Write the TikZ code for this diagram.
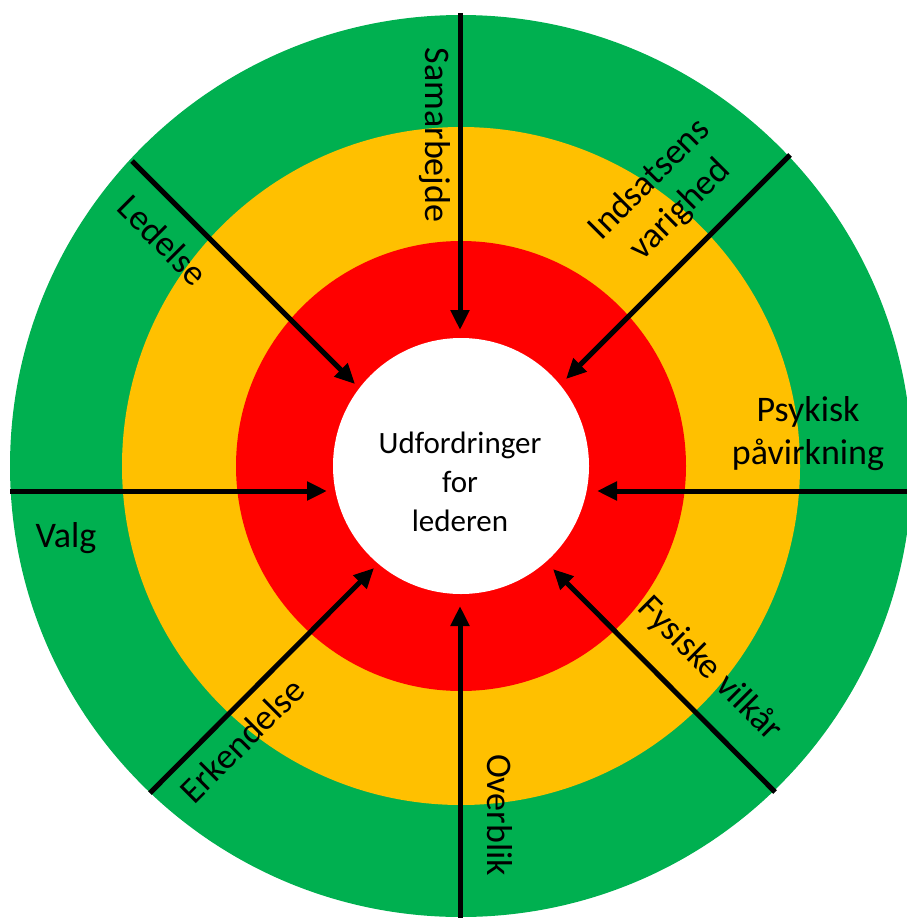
\documentclass[tikz,border=0pt]{standalone}
\usepackage{fontspec}
\setmainfont{Carlito}
\usepackage{tikz}
\usetikzlibrary{arrows.meta}
\definecolor{ringgreen}{HTML}{00B050}
\definecolor{ringyellow}{HTML}{FFC000}
\definecolor{ringred}{HTML}{FF0000}

\begin{document}
\begin{tikzpicture}[
    x=1pt, y=-1pt,
    lbl/.style={font=\fontsize{36}{43}\selectfont, align=center, inner sep=0pt},
    hub/.style={circle, fill=white, minimum size=256pt, inner sep=0pt},
    hubtext/.style={font=\fontsize{31}{39}\selectfont, align=center, inner sep=0pt},
    push/.style={-{Triangle[length=20pt, width=18pt]}, line width=5pt}
]
\useasboundingbox (0,0) rectangle (907,918);
\clip (0,0) rectangle (907,918);

% rings
\fill[ringgreen] (461,466) circle (451pt);
\fill[ringyellow] (461,466) circle (339pt);
\fill[ringred] (461,466) circle (225pt);
\node[hub] (hub) at (461,466) {};
\node[hubtext] (chal) at (460,482) {Udfordringer\\for\\lederen};

% outer ends and tips
\coordinate (topS) at (460,13);   \coordinate (topE) at (460,330);
\coordinate (botS) at (460,918);  \coordinate (botE) at (460,606);
\coordinate (lefS) at (10,491);   \coordinate (lefE) at (327,491);
\coordinate (rigS) at (907,491);  \coordinate (rigE) at (597,491);
\coordinate (tlS) at (132,161);   \coordinate (tlE) at (355,384);
\coordinate (trS) at (790,155);   \coordinate (trE) at (566,379);
\coordinate (blS) at (150,793);   \coordinate (blE) at (374,568);
\coordinate (brS) at (775,792);   \coordinate (brE) at (553,569);

\draw[push] (topS) -- (topE);
\draw[push] (botS) -- (botE);
\draw[push] (lefS) -- (lefE);
\draw[push] (rigS) -- (rigE);
\draw[push] (tlS) -- (tlE);
\draw[push] (trS) -- (trE);
\draw[push] (blS) -- (blE);
\draw[push] (brS) -- (brE);

% labels
\node[lbl, rotate=-90] (samarb) at (435,135) {Samarbejde};
\node[lbl, rotate=-90] (overbl) at (500,815) {Overblik};
\node[lbl, rotate=-45] (ledel) at (163,240) {Ledelse};
\node[lbl, rotate=45] (indsat) at (665,195) {Indsatsens\\varighed};
\node[lbl, rotate=45] (erkend) at (242,740) {Erkendelse};
\node[lbl, rotate=-45] (fysisk) at (710,669) {Fysiske vilkår};
\node[lbl] (valg) at (66,538) {Valg};
\node[lbl] (psyk) at (808,434) {Psykisk\\påvirkning};
\end{tikzpicture}
\end{document}
